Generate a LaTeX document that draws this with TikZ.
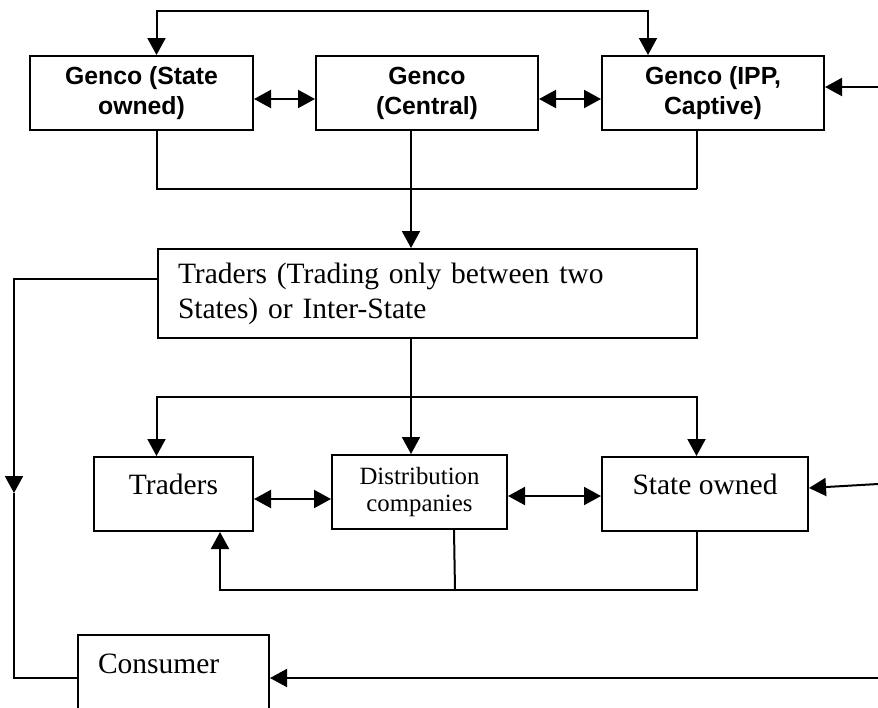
\documentclass[tikz,border=0pt]{standalone}
\usepackage{fontspec}
\setmainfont{Liberation Serif}
\newfontfamily\arialbold{Liberation Sans}
\usetikzlibrary{arrows.meta}

\begin{document}
\begin{tikzpicture}[
  x=1pt, y=-1pt,
  genco/.style={draw, line width=2pt, anchor=north west, inner sep=0pt,
                minimum height=74pt, align=center,
                font=\arialbold\bfseries\fontsize{24.8}{30}\selectfont},
  firm/.style={draw, line width=2pt, anchor=north west, inner sep=0pt,
               font=\fontsize{29.5}{35}\selectfont},
  arrow/.style={-{Triangle[length=17pt,width=18pt]}, line width=2pt},
  both/.style={{Triangle[length=17pt,width=18pt]}-{Triangle[length=17pt,width=18pt]},
               line width=2pt},
  wire/.style={line width=2pt}
]
  \clip (0,0) rectangle (878,707);

  % generating companies
  \node[genco, minimum width=223pt] (gstate) at (29,55) {Genco (State\\owned)};
  \node[genco, minimum width=222pt] (gcentral) at (315,55) {Genco\\(Central)};
  \node[genco, minimum width=222pt] (gipp) at (601,55) {Genco (IPP,\\Captive)};

  \node[firm, minimum height=89pt, text width=499pt, inner xsep=20pt, align=left]
    (traders) at (157,248) {Traders (Trading only between two\\States) or Inter-State};

  % buyers
  \node[firm, minimum width=159pt, text height=37pt, text depth=37pt] (ltraders) at (93,456) {Traders};
  \node[firm, minimum width=175pt, minimum height=74pt, align=center,
        font=\fontsize{24.8}{27}\selectfont] (dist) at (331,454) {Distribution\\companies};
  \node[firm, minimum width=206pt, text height=37pt, text depth=37pt] (sowned) at (601,456) {State owned};
  \node[firm, text width=151pt, inner xsep=20pt, align=left, text height=38pt, text depth=80pt]
    (consumer) at (77,634) {Consumer};

  \coordinate (colL) at (156.5,11);
  \coordinate (colA) at (648,11);
  \coordinate (colM) at (411,189);
  \coordinate (colR) at (696.5,189);
  \coordinate (split) at (411,397);
  \coordinate (gencorow) at (0,99);
  \coordinate (tdrow) at (0,499);
  \coordinate (dsrow) at (0,496);
  \coordinate (ippin) at (878,87);
  \coordinate (soin) at (878,484);
  \coordinate (consin) at (878,678);
  \coordinate (loop) at (220,590);
  \coordinate (distfoot) at (455,590);
  \coordinate (west) at (14,493);

  \draw[both] (gstate.north -| colL) |- (colA) -- (gipp.north -| colA);
  \draw[both] (gstate.east |- gencorow) -- (gcentral.west |- gencorow);
  \draw[both] (gcentral.east |- gencorow) -- (gipp.west |- gencorow);
  \draw[arrow] (ippin) -- (gipp.east |- ippin);

  \draw[wire] (gstate.south -| colL) |- (colR);
  \draw[wire] (gipp.south -| colR) -- (colR);
  \draw[arrow] (gcentral.south -| colM) -- (traders.north -| colM);

  \draw[wire] (traders.south -| split) -- (split);
  \draw[arrow] (split) -| (ltraders.north -| colL);
  \draw[arrow] (split) -| (sowned.north -| colR);
  \draw[arrow] (split) -- (dist.north -| split);

  \draw[both] (ltraders.east |- tdrow) -- (dist.west |- tdrow);
  \draw[both] (dist.east |- dsrow) -- (sowned.west |- dsrow);
  \draw[arrow] (soin) -- ([yshift=6pt]sowned.east);

  \draw[arrow] (sowned.south -| colR) |- (loop) -- (ltraders.south -| loop);
  \draw[wire] ([xshift=34.5pt]dist.south) -- (distfoot);

  \draw[arrow] ([yshift=14.5pt]traders.west) -| (west);
  \draw[wire] (west) |- (consumer.west |- consin);
  \draw[arrow] (consin) -- (consumer.east |- consin);
\end{tikzpicture}
\end{document}
